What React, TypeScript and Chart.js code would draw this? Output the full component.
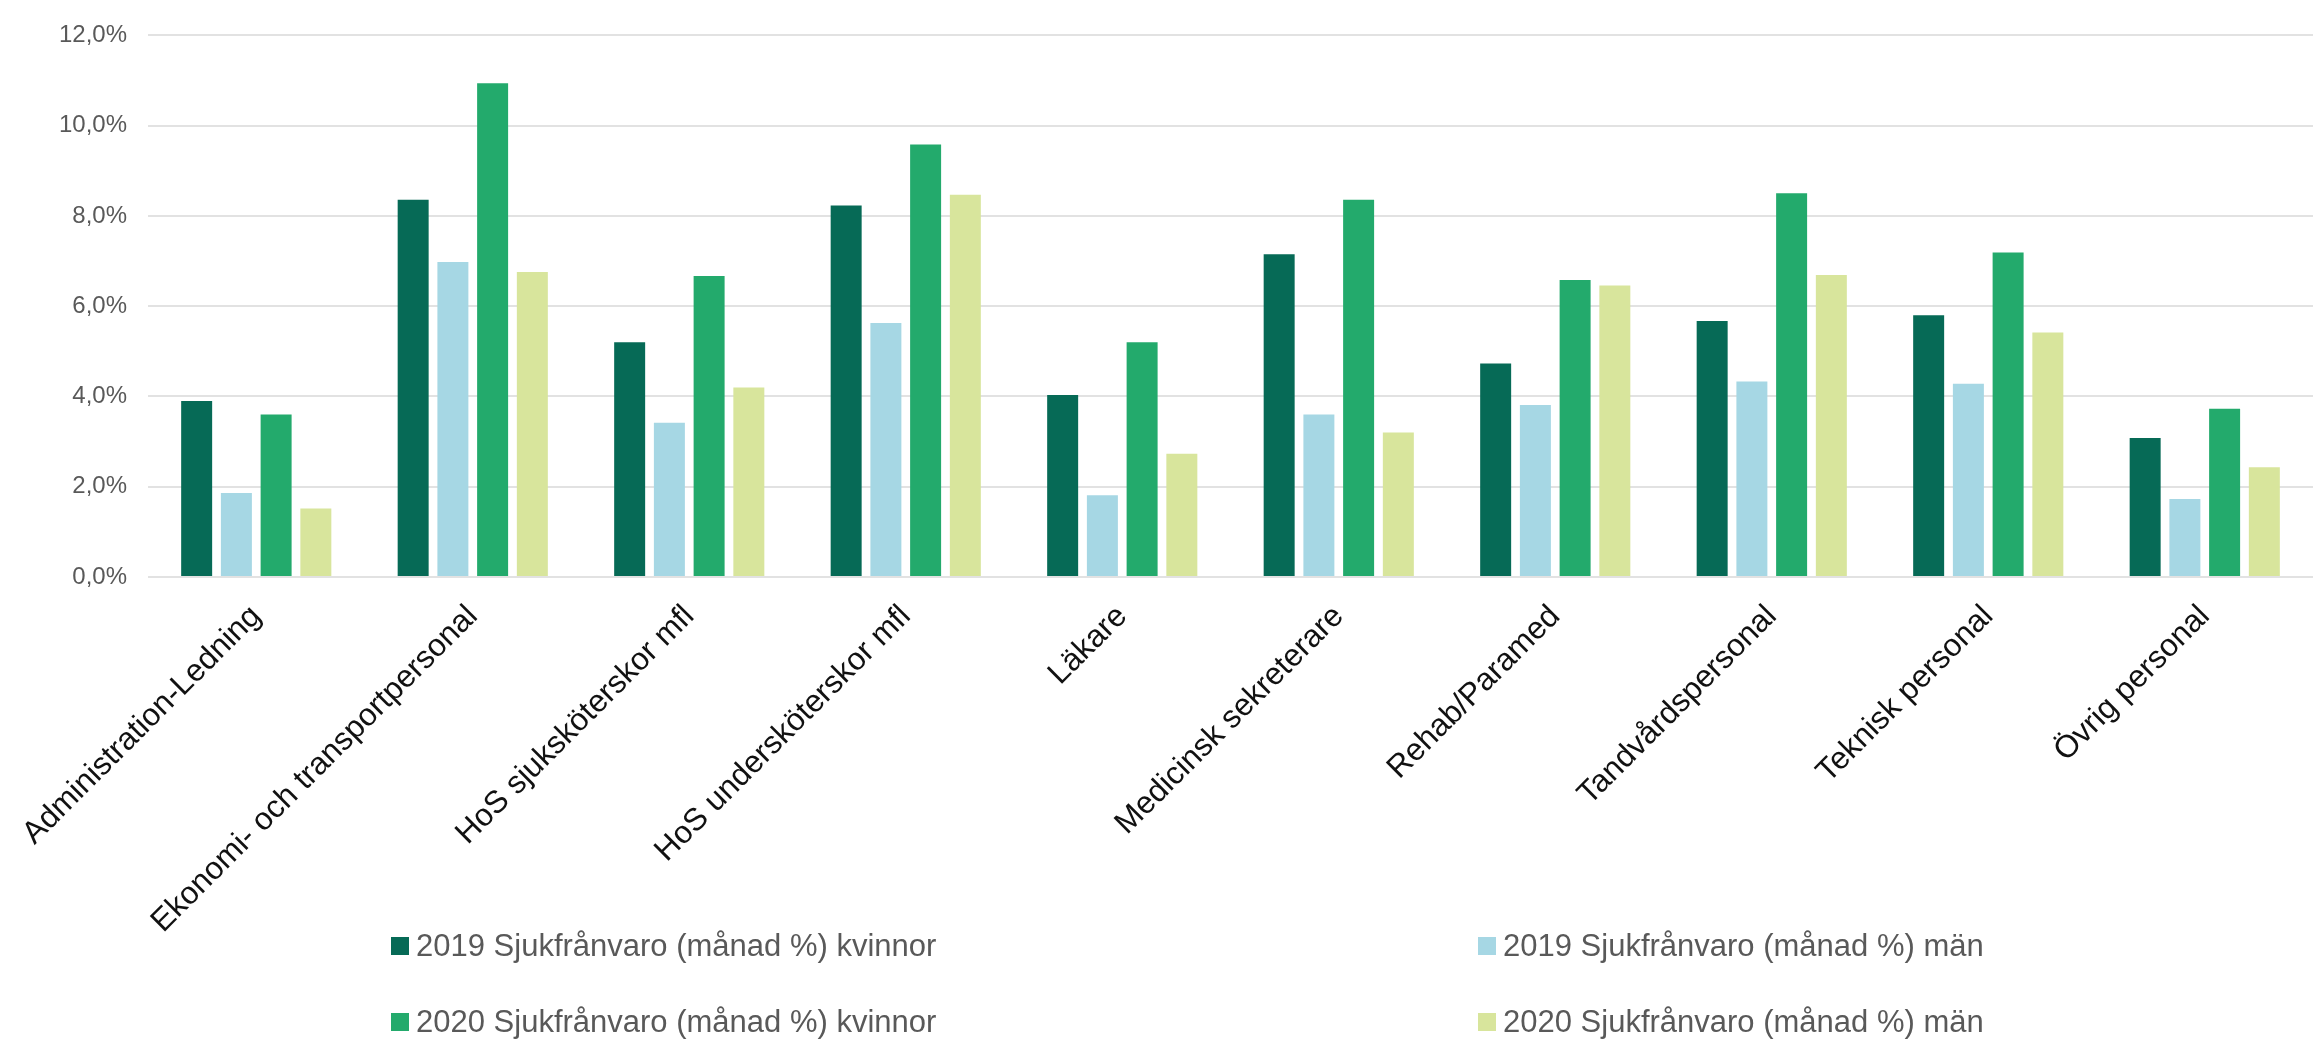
import React, { useEffect, useRef } from "react";
import { Chart, registerables } from "chart.js";

Chart.register(...registerables);

const categories = [
  "Administration-Ledning",
  "Ekonomi- och transportpersonal",
  "HoS sjuksköterskor mfl",
  "HoS undersköterskor mfl",
  "Läkare",
  "Medicinsk sekreterare",
  "Rehab/Paramed",
  "Tandvårdspersonal",
  "Teknisk personal",
  "Övrig personal",
];

const seriesNames = [
  "2019 Sjukfrånvaro (månad %) kvinnor",
  "2019 Sjukfrånvaro (månad %) män",
  "2020 Sjukfrånvaro (månad %) kvinnor",
  "2020 Sjukfrånvaro (månad %) män",
];

const kvinnor2019 = [3.9, 8.36, 5.2, 8.23, 4.03, 7.15, 4.73, 5.67, 5.8, 3.08];
const man2019 = [1.86, 6.98, 3.42, 5.63, 1.81, 3.6, 3.81, 4.33, 4.28, 1.73];
const kvinnor2020 = [3.6, 10.94, 6.67, 9.58, 5.2, 8.36, 6.58, 8.5, 7.19, 3.73];
const man2020 = [1.52, 6.76, 4.2, 8.47, 2.73, 3.2, 6.46, 6.69, 5.42, 2.43];

const seriesColors = ["#066a56", "#a6d7e4", "#23aa6c", "#d8e59c"];

const yMin = 0;
const yMax = 12;
const yStep = 2;

const FONT = "'Liberation Sans', Arial, sans-serif";

export default function App() {
  const canvasRef = useRef<HTMLCanvasElement>(null);

  useEffect(() => {
    const canvas = canvasRef.current;
    if (!canvas) return;

    const gridLegend = {
      id: "gridLegend",
      afterDraw(chart: any) {
        const ctx = chart.ctx;
        ctx.save();
        ctx.font = `31px ${FONT}`;
        ctx.textBaseline = "middle";
        ctx.textAlign = "left";
        const cols = [391, 1478];
        const rows = [946, 1022];
        chart.data.datasets.forEach((ds: any, i: number) => {
          const x = cols[i % 2];
          const y = rows[Math.floor(i / 2)];
          ctx.fillStyle = ds.backgroundColor;
          ctx.fillRect(x, y - 9, 18, 18);
          ctx.fillStyle = "#595959";
          ctx.fillText(ds.label, x + 25, y + 1);
        });
        ctx.restore();
      },
    };

    const seriesData = [kvinnor2019, man2019, kvinnor2020, man2020];

    const chart = new Chart(canvas, {
      type: "bar",
      data: {
        labels: categories,
        datasets: seriesData.map((d, i) => ({
          label: seriesNames[i],
          data: d,
          backgroundColor: seriesColors[i],
          borderWidth: 0,
          categoryPercentage: 0.734,
          barPercentage: 0.78,
        })),
      },
      options: {
        responsive: false,
        animation: false,
        devicePixelRatio: 1,
        layout: { padding: { top: 22, left: 0, right: 0, bottom: 0 } },
        plugins: {
          legend: { display: false },
          tooltip: { enabled: false },
        },
        scales: {
          x: {
            grid: { display: false, drawTicks: false },
            border: { display: false },
            ticks: {
              autoSkip: false,
              minRotation: 45,
              maxRotation: 45,
              padding: 21,
              color: "#111111",
              font: { family: FONT, size: 31.5 },
            },
            afterFit(scale: any) {
              scale.height = 462;
            },
          },
          y: {
            min: yMin,
            max: yMax,
            grid: { color: "#e2e2e2", lineWidth: 2, drawTicks: false },
            border: { display: false },
            ticks: {
              stepSize: yStep,
              padding: 21,
              color: "#595959",
              font: { family: FONT, size: 24 },
              callback: (v: any) => Number(v).toFixed(1).replace(".", ",") + "%",
            },
            afterFit(scale: any) {
              scale.width = 148;
            },
          },
        },
      },
      plugins: [gridLegend],
    });

    return () => chart.destroy();
  }, []);

  return (
    <div style={{ position: "fixed", left: 0, top: 0, width: 2313, height: 1039, background: "#fff" }}>
      <canvas ref={canvasRef} width={2313} height={1039} style={{ display: "block" }} />
    </div>
  );
}
